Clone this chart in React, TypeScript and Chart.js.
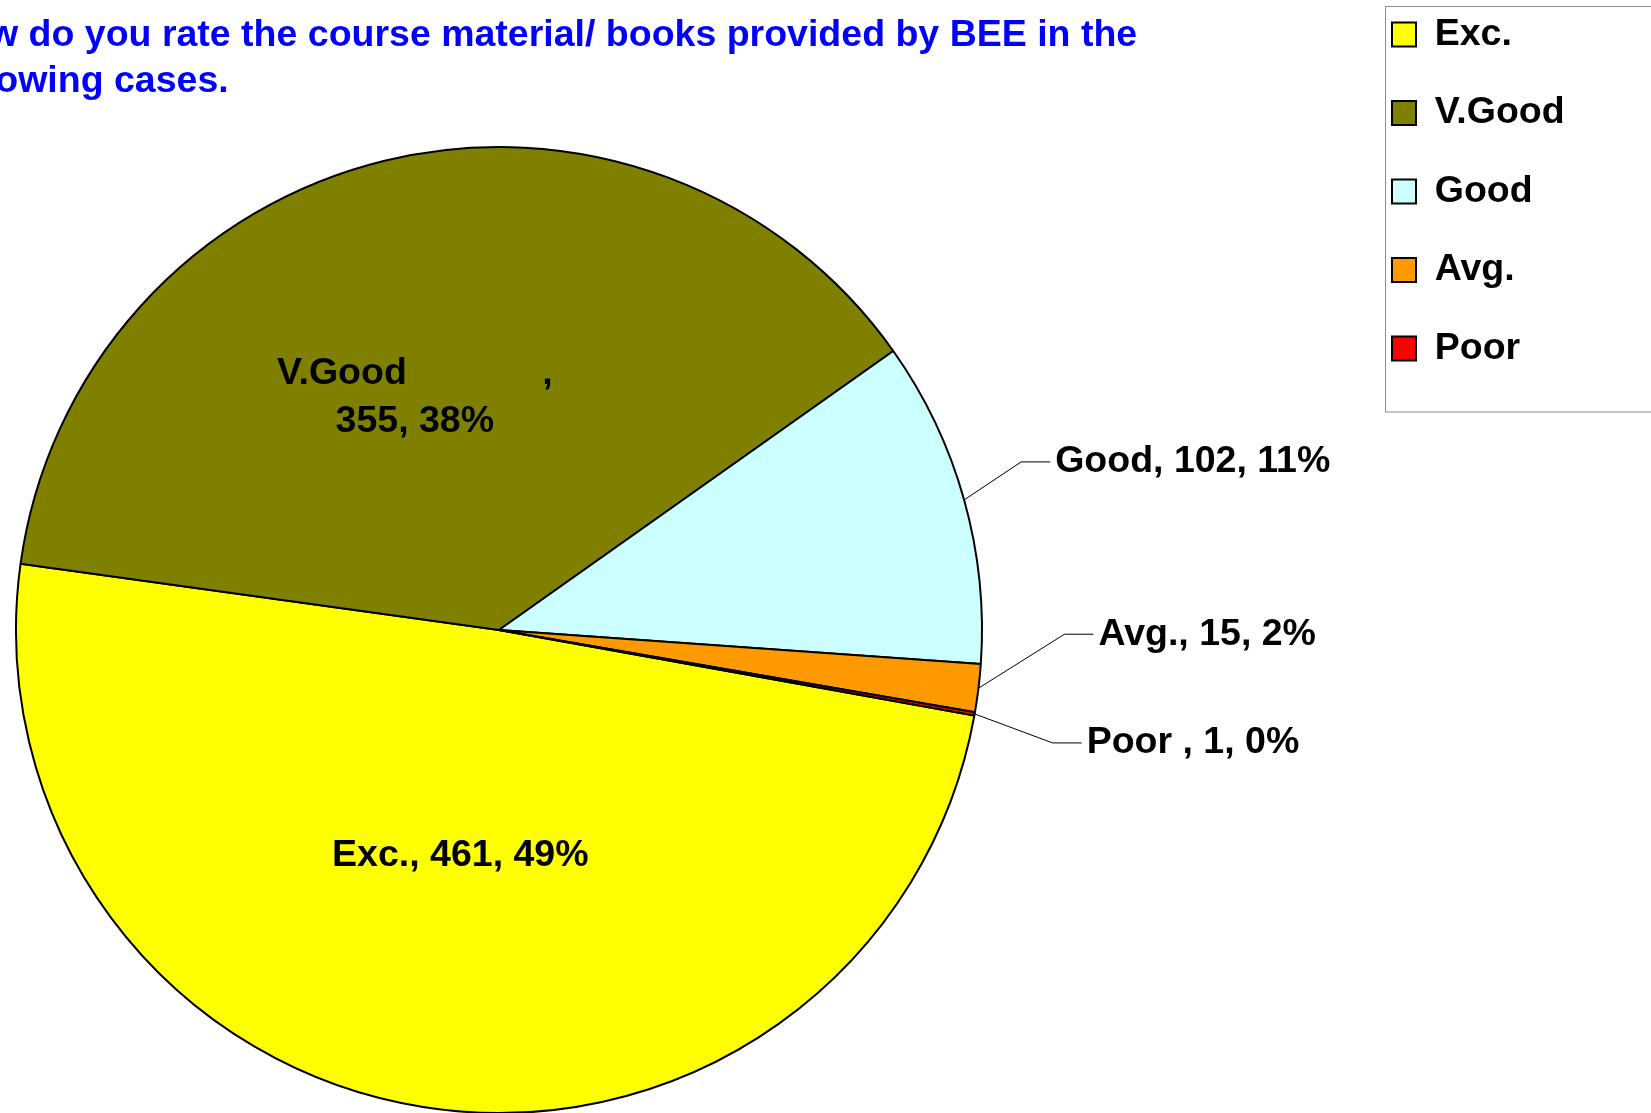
import React, { useEffect, useRef } from 'react';
import { Chart, registerables } from 'chart.js';

Chart.register(...registerables);

// ---- data ----
const TITLE_LINES = [
  'How do you rate the course material/ books provided by BEE in the',
  'following cases.',
];
const CATEGORIES = ['Exc.', 'V.Good', 'Good', 'Avg.', 'Poor '];
const COUNTS = [461, 355, 102, 15, 1];
const COLORS = ['#FFFF00', '#808000', '#CCFFFF', '#FF9900', '#FF0000'];

// ---- styling / placement ----
const FONT = '"Liberation Sans", Arial, sans-serif';
const FONT_SIZE = 37.5;
const LEGEND_PAD = 41;

type Placement = { mode: 'inside' | 'outside'; frac?: number; dx: number; dy: number; wrap?: boolean };
const LABEL_PLACEMENT: Placement[] = [
  { mode: 'inside', frac: 0.47, dx: -3, dy: 1 },
  { mode: 'inside', frac: 0.5, dx: -27, dy: 2, wrap: true },
  { mode: 'outside', dx: 91, dy: -38 },
  { mode: 'outside', dx: 120, dy: -54 },
  { mode: 'outside', dx: 112, dy: 29 },
];

const sliceLabels = {
  id: 'sliceLabels',
  afterDatasetsDraw(chart: any) {
    const ctx = chart.ctx as CanvasRenderingContext2D;
    const meta = chart.getDatasetMeta(0);
    const data = chart.data.datasets[0].data as number[];
    const total = data.reduce((a, b) => a + b, 0);
    ctx.save();
    ctx.font = `bold ${FONT_SIZE}px ${FONT}`;
    ctx.fillStyle = '#000';
    ctx.textBaseline = 'middle';
    meta.data.forEach((el: any, i: number) => {
      const { x, y, startAngle, endAngle, outerRadius } = el.getProps(
        ['x', 'y', 'startAngle', 'endAngle', 'outerRadius'],
        true
      );
      const mid = (startAngle + endAngle) / 2;
      const cos = Math.cos(mid);
      const sin = Math.sin(mid);
      const name = String(chart.data.labels[i]);
      const value = data[i];
      const pct = Math.round((value / total) * 100);
      const p = LABEL_PLACEMENT[i];
      if (p.mode === 'inside') {
        const cx = x + cos * outerRadius * (p.frac || 0.5) + p.dx;
        const cy = y + sin * outerRadius * (p.frac || 0.5) + p.dy;
        ctx.textAlign = 'center';
        const lines = p.wrap
          ? [name + ' '.repeat(13) + ',', `${value}, ${pct}%`]
          : [`${name}, ${value}, ${pct}%`];
        const lh = 48;
        lines.forEach((ln, k) => ctx.fillText(ln, cx, cy + (k - (lines.length - 1) / 2) * lh));
      } else {
        const ex = x + cos * outerRadius;
        const ey = y + sin * outerRadius;
        const tx = ex + p.dx;
        const ty = ey + p.dy;
        ctx.beginPath();
        ctx.moveTo(ex, ey);
        ctx.lineTo(tx - 34, ty);
        ctx.lineTo(tx - 5, ty);
        ctx.lineWidth = 1;
        ctx.strokeStyle = '#000';
        ctx.stroke();
        ctx.textAlign = 'left';
        ctx.fillText(`${name}, ${value}, ${pct}%`, tx, ty);
      }
    });
    ctx.restore();
  },
};

const titleAndFrame = {
  id: 'titleAndFrame',
  afterLayout(chart: any) {
    const lg = chart.legend;
    if (!lg) return;
    lg.left = 1392 - LEGEND_PAD;
    lg.top = 34.5 - FONT_SIZE / 2 - LEGEND_PAD;
    lg.right = lg.left + lg.width;
    lg.bottom = lg.top + lg.height;
  },
  afterDraw(chart: any) {
    const ctx = chart.ctx as CanvasRenderingContext2D;
    ctx.save();
    // legend frame
    ctx.strokeStyle = '#8c8c8c';
    ctx.lineWidth = 1;
    ctx.strokeRect(1385.5, 6.5, 400, 405.5);
    // title
    ctx.font = `bold ${FONT_SIZE}px ${FONT}`;
    ctx.fillStyle = '#0000FF';
    ctx.textAlign = 'left';
    ctx.textBaseline = 'alphabetic';
    TITLE_LINES.forEach((t, i) => ctx.fillText(t, -61, 46 + i * 46));
    ctx.restore();
  },
};

export default function App() {
  const ref = useRef<HTMLCanvasElement | null>(null);
  useEffect(() => {
    if (!ref.current) return;
    const chart = new Chart(ref.current, {
      type: 'pie',
      data: {
        labels: CATEGORIES,
        datasets: [
          {
            data: COUNTS,
            backgroundColor: COLORS,
            borderColor: '#000000',
            borderWidth: 2,
            hoverBorderWidth: 2,
            hoverOffset: 0,
          },
        ],
      },
      options: {
        responsive: false,
        devicePixelRatio: 1,
        animation: false,
        events: [],
        rotation: 100.2,
        layout: { padding: { left: 15, right: 668, top: 146, bottom: 0 } },
        plugins: {
          title: { display: false },
          tooltip: { enabled: false },
          legend: {
            display: true,
            position: 'chartArea' as any,
            align: 'start',
            labels: {
              font: { family: FONT, size: FONT_SIZE, weight: 'bold' },
              color: '#000000',
              boxWidth: 24,
              boxHeight: 24,
              padding: LEGEND_PAD,
            },
          },
        },
      },
      plugins: [sliceLabels, titleAndFrame],
    });
    return () => chart.destroy();
  }, []);
  return (
    <div
      style={{
        position: 'fixed',
        left: 0,
        top: 0,
        width: 1651,
        height: 1113,
        overflow: 'hidden',
        background: '#ffffff',
      }}
    >
      <canvas ref={ref} width={1651} height={1114} style={{ display: 'block', width: 1651, height: 1114 }} />
    </div>
  );
}
